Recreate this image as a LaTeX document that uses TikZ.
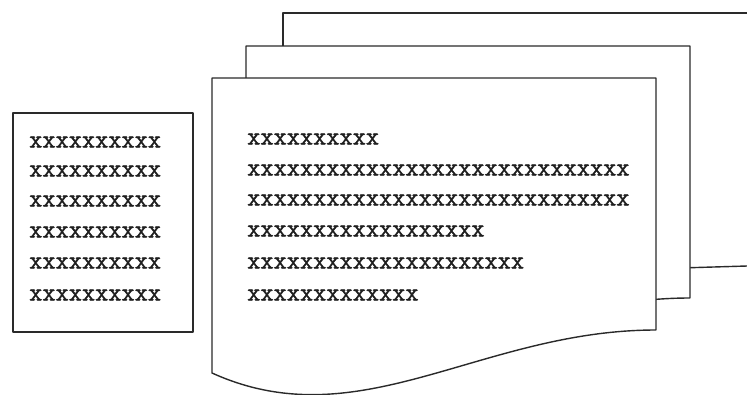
\documentclass[tikz,border=0pt]{standalone}
\usepackage{fontspec}
\newfontfamily\xfont[FakeBold=1.6]{Latin Modern Mono}
\usetikzlibrary{positioning}
\definecolor{pageline}{HTML}{2A2A2A}
\definecolor{inkx}{HTML}{1E1E1E}

\begin{document}
\begin{tikzpicture}[x=1pt, y=-1pt,
    page/.style={draw=pageline, line width=1.4pt, fill=white, line join=round},
    xline/.style={anchor=west, inner sep=0pt, text=inkx,
      font=\xfont\fontsize{25.6}{25.6}\selectfont}]
  \useasboundingbox (0,0) rectangle (747,394);

  % back sheet (runs off the right edge)
  \draw[page, fill=none] (283,120) -- (283,13) -- (747,13);
  \draw[page, fill=none] (680,268) -- (747,266);

  % middle sheet
  \draw[page, shift={(34,-32)}] (212,78) -- (656,78) -- (656,330)
    .. controls (480,330) and (360,440) .. (212,373) -- cycle;

  % front sheet
  \draw[page] (212,78) -- (656,78) -- (656,330)
    .. controls (480,330) and (360,440) .. (212,373) -- cycle;

  % small card on the left
  \draw[page] (13,113) rectangle (193,332);

  % card text
  \foreach \i/\ypos in {1/142, 2/171, 3/201, 4/232, 5/263, 6/295} {
    \node[xline] (card-\i) at (29,\ypos) {xxxxxxxxxx};
  }

  % front sheet text
  \foreach \i/\txt/\ypos in {
    1/xxxxxxxxxx/139,
    2/xxxxxxxxxxxxxxxxxxxxxxxxxxxxx/170,
    3/xxxxxxxxxxxxxxxxxxxxxxxxxxxxx/200,
    4/xxxxxxxxxxxxxxxxxx/231,
    5/xxxxxxxxxxxxxxxxxxxxx/263,
    6/xxxxxxxxxxxxx/295%
  } {
    \node[xline] (sheet-\i) at (247,\ypos) {\txt};
  }
\end{tikzpicture}
\end{document}
